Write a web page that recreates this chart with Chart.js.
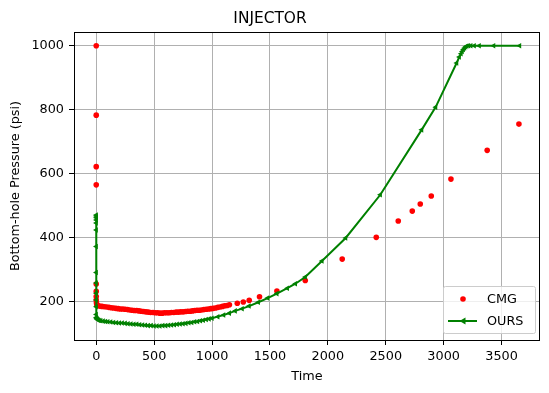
<!DOCTYPE html>
<html>
<head>
<meta charset="utf-8">
<script src="https://cdn.jsdelivr.net/npm/chart.js@4/dist/chart.umd.min.js"></script>
<style>
  body { margin: 0; background: #fff; }
  canvas { display: block; }
</style>
</head>
<body>
<canvas id="myChart" width="549" height="393"></canvas>
<script>
// CMG reference simulator results
const cmgTime = [0, 0, 0, 0, 0, 0, 0, 0, 2, 5,
  10, 30, 50, 70, 90, 110, 130, 150, 170, 190, 210, 230, 250, 270, 290, 310, 330, 350, 370, 390,
  410, 430, 450, 470, 490, 510, 530, 550, 570, 590, 610, 630, 650, 670, 690, 710, 730, 750, 770, 790,
  810, 830, 850, 870, 890, 910, 930, 950, 970, 990, 1010, 1030, 1050, 1070, 1090, 1110, 1130, 1150,
  1218, 1270, 1321, 1410, 1560, 1805, 2124, 2418, 2608, 2729, 2798, 2893, 3063, 3376, 3650];
const cmgPressure = [1000, 783, 622, 565, 255, 232, 216, 205, 196, 191,
  188, 186, 185, 184, 183, 182, 181, 180, 179, 178, 177, 177, 176, 175, 174, 173, 172, 172, 171, 170,
  169, 168, 167, 166, 166, 165, 165, 164, 164, 165, 165, 165, 166, 166, 167, 167, 168, 168, 169, 170,
  170, 171, 172, 173, 173, 174, 175, 176, 177, 178, 179, 180, 182, 183, 185, 187, 188, 190,
  195, 199, 204, 215, 233, 266, 333, 401, 452, 483, 505, 530, 583, 673, 755];

// our model
const oursTime = [0, 0, 0, 0, 0, 0, 0, 0, 0, 0, 0, 0, 0, 0,
  3, 6, 10, 15, 20, 30, 40, 60, 80, 100, 125, 150, 175, 200, 225, 250, 275, 300, 325, 350,
  375, 400, 425, 450, 475, 500, 525, 550, 575, 600, 625, 650, 675, 700, 725, 750, 775, 800,
  825, 850, 875, 900, 925, 950, 975, 1000, 1050, 1100, 1150, 1200, 1260, 1320, 1400, 1480,
  1560, 1650, 1720, 1805, 1949, 2154, 2453, 2810, 2931, 3112, 3135, 3150, 3160, 3170, 3180,
  3190, 3200, 3215, 3235, 3264, 3307, 3432, 3656];
const oursPressure = [471, 468, 462, 455, 446, 424, 372, 291, 258, 226, 205, 184, 160, 150,
  148, 146, 145, 143, 142, 141, 140, 139, 138, 137, 136, 135, 134, 133, 133, 132, 131, 130, 129, 129,
  128, 127, 126, 125, 125, 124, 124, 124, 125, 125, 126, 127, 128, 129, 130, 131, 132, 134,
  135, 137, 138, 140, 142, 144, 146, 148, 153, 158, 164, 171, 178, 186, 198, 211,
  225, 242, 256, 277, 327, 399, 534, 737, 808, 946, 965, 975, 982, 988, 993,
  997, 999, 1000, 1000, 1000, 1000, 1000, 1000];

const xTicks = [0, 500, 1000, 1500, 2000, 2500, 3000, 3500];
const yTicks = [200, 400, 600, 800, 1000];

const toPoints = (xs, ys) => xs.map((x, i) => ({x: x, y: ys[i]}));
const font = "'DejaVu Sans', sans-serif";

// frame around the plot + matplotlib style legend
const frameAndLegend = {
  id: 'frameAndLegend',
  afterDraw(chart) {
    const {ctx, chartArea: a} = chart;
    ctx.save();
    ctx.strokeStyle = '#000';
    ctx.lineWidth = 1;
    ctx.strokeRect(Math.round(a.left) + 0.5, Math.round(a.top) + 0.5,
      Math.round(a.right - a.left) - 1, Math.round(a.bottom - a.top));

    // legend box
    const bx = 443.5, by = 286.5, bw = 92, bh = 47;
    ctx.fillStyle = 'rgba(255,255,255,0.8)';
    ctx.strokeStyle = '#cccccc';
    ctx.beginPath();
    ctx.roundRect(bx, by, bw, bh, 2);
    ctx.fill();
    ctx.stroke();

    const ds = chart.data.datasets;
    ctx.font = '12.8px ' + font;
    ctx.textBaseline = 'middle';
    ctx.textAlign = 'left';
    // CMG
    ctx.fillStyle = ds[0].pointBackgroundColor;
    ctx.beginPath();
    ctx.arc(463, 299, 2.8, 0, Math.PI * 2);
    ctx.fill();
    ctx.fillStyle = '#000';
    ctx.fillText(ds[0].label, 487, 300);
    // OURS
    ctx.strokeStyle = ds[1].borderColor;
    ctx.lineWidth = 2;
    ctx.beginPath();
    ctx.moveTo(448, 321);
    ctx.lineTo(477, 321);
    ctx.stroke();
    ctx.fillStyle = ds[1].borderColor;
    ctx.beginPath();
    ctx.moveTo(459.5, 321);
    ctx.lineTo(465.5, 317.5);
    ctx.lineTo(465.5, 324.5);
    ctx.closePath();
    ctx.fill();
    ctx.fillStyle = '#000';
    ctx.fillText(ds[1].label, 487, 322);
    ctx.restore();
  }
};

const plain = v => String(v);

new Chart(document.getElementById('myChart'), {
  type: 'scatter',
  data: {
    datasets: [
      {
        label: 'CMG',
        data: toPoints(cmgTime, cmgPressure),
        showLine: false,
        pointRadius: 2.8,
        pointBorderWidth: 0,
        pointBackgroundColor: '#ff0000',
        borderColor: '#ff0000',
        order: 1
      },
      {
        label: 'OURS',
        data: toPoints(oursTime, oursPressure),
        showLine: true,
        borderColor: '#008000',
        borderWidth: 2,
        pointStyle: 'triangle',
        rotation: -90,
        pointRadius: 3.2,
        pointBorderWidth: 0,
        pointBackgroundColor: '#008000',
        order: 0
      }
    ]
  },
  options: {
    responsive: false,
    animation: false,
    layout: { padding: { left: 0, right: 9, top: 0, bottom: 0 } },
    plugins: {
      legend: { display: false },
      tooltip: { enabled: false },
      title: {
        display: true,
        text: 'INJECTOR',
        color: '#000',
        font: { family: font, size: 15.4, weight: 'normal' },
        padding: { top: 9.5, bottom: 4 }
      }
    },
    scales: {
      x: {
        type: 'linear',
        min: -192,
        max: 3832,
        afterBuildTicks: s => { s.ticks = xTicks.map(v => ({value: v})); },
        afterFit: s => { s.height = 53; },
        grid: { color: '#b0b0b0', lineWidth: 1, tickLength: 5, tickColor: '#000' },
        border: { display: false },
        ticks: { color: '#000', padding: 4, font: { family: font, size: 12.8 }, maxRotation: 0, callback: plain },
        title: { display: true, text: 'Time', color: '#000', font: { family: font, size: 12.8 }, padding: { top: 0, bottom: 9 } }
      },
      y: {
        type: 'linear',
        min: 80,
        max: 1043,
        afterBuildTicks: s => { s.ticks = yTicks.map(v => ({value: v})); },
        afterFit: s => { s.width = 74; },
        grid: { color: '#b0b0b0', lineWidth: 1, tickLength: 5, tickColor: '#000' },
        border: { display: false },
        ticks: { color: '#000', padding: 5, font: { family: font, size: 12.8 }, callback: plain },
        title: { display: true, text: 'Bottom-hole Pressure (psi)', color: '#000', font: { family: font, size: 12.8 }, padding: { top: 8, bottom: 0 } }
      }
    }
  },
  plugins: [frameAndLegend]
});
</script>
</body>
</html>
